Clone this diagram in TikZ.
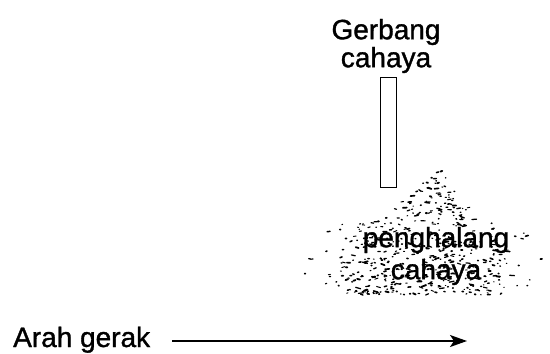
\documentclass[tikz,border=0pt]{standalone}
\usepackage{fontspec}
\setmainfont{Liberation Sans}[FakeBold=1.2]
\usetikzlibrary{arrows.meta}
\begin{document}
\begin{tikzpicture}[x=1pt,y=-1pt,
  label/.style={inner sep=0pt,align=center,font=\fontsize{28}{28}\selectfont},
  gatebox/.style={draw,line width=1.8pt,minimum width=16pt,minimum height=110pt,inner sep=0pt},
  speck/.style={line cap=round},
  motion/.style={line width=1.5pt,-{Stealth[length=17pt,width=12pt,inset=4pt]}}]
\useasboundingbox (0,0) rectangle (550,354);

% scattered specks of the light barrier, with ragged edges
\pgfmathsetseed{11}
\foreach \i in {1,...,520}{
  \pgfmathsetmacro\t{rnd}
  \pgfmathsetmacro\yy{168+127*sqrt(\t)}
  \pgfmathsetmacro\L{(\yy<212 ? 422-(\yy-168)*0.95 : (\yy<232 ? 380-(\yy-212)*4.2 : 296)) + 18*rnd*rnd}
  \pgfmathsetmacro\R{(\yy<212 ? 445+(\yy-168)*0.9 : (\yy<232 ? 485+(\yy-212)*3.0 : 548)) - 18*rnd*rnd}
  \pgfmathsetmacro\xx{\L+(\R-\L)*(0.7*rnd+0.3*(rnd+rnd)/2)}
  \pgfmathsetmacro\len{0.5+5*rnd*rnd}
  \pgfmathsetmacro\ang{(rnd-0.5)*50}
  \pgfmathsetmacro\lw{0.9+1.0*rnd}
  \draw[speck,line width=\lw pt] (\xx,\yy) -- ++(\ang:\len pt);
}

% light gate
\node[gatebox] (gate) at (388.5,132.5) {};
\node[label] (gatelabel) at (386,46) {Gerbang\\cahaya};

% light barrier label
\node[label,font=\fontsize{28}{32}\selectfont] (barrier) at (436,256) {penghalang\\cahaya};

% direction of motion
\node[label,anchor=base west] (arah) at (13,347) {Arah gerak};
\coordinate (mstart) at (172,341);
\coordinate (mend) at (467,341);
\draw[motion] (mstart) -- (mend);
\end{tikzpicture}
\end{document}
